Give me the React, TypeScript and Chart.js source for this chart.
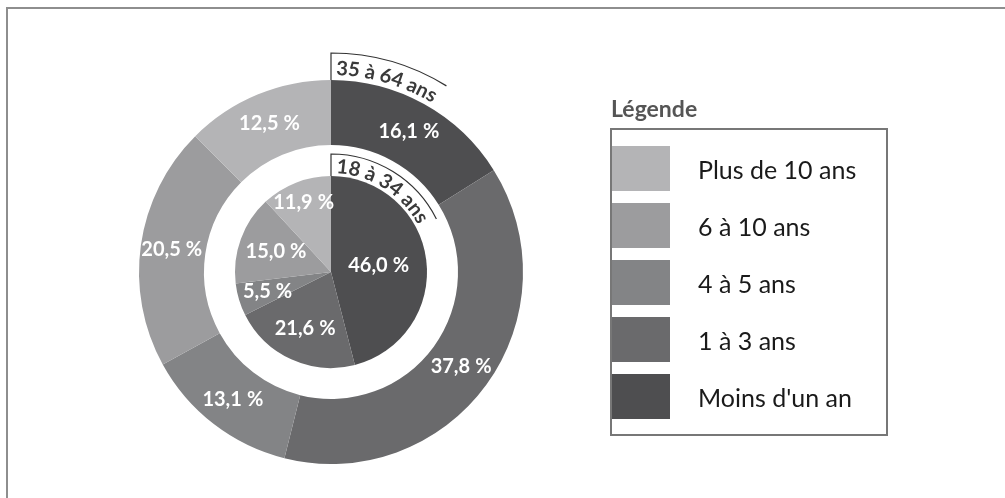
import React, { useEffect, useRef } from 'react';
import { Chart, registerables } from 'chart.js';

Chart.register(...registerables);

const categories = ["Moins d'un an", '1 à 3 ans', '4 à 5 ans', '6 à 10 ans', 'Plus de 10 ans'];
const outerValues = [16.1, 37.8, 13.1, 20.5, 12.5]; // 35 à 64 ans
const innerValues = [46.0, 21.6, 5.5, 15.0, 11.9]; // 18 à 34 ans
const ringTitles = ['35 à 64 ans', '18 à 34 ans'];
const legendTitle = 'Légende';
const colors = ['#4e4e50', '#6a6a6c', '#838486', '#9c9c9e', '#b4b4b6'];

const outerLabelFrac = [0.52, 0.52, 0.52, 0.52, 0.52];
const innerLabelFrac = [0.5, 0.65, 0.69, 0.61, 0.78];

const FONT = 'Lato, "Open Sans", sans-serif';

const fmt = (v: number) => v.toFixed(1).replace('.', ',') + '\u202f%';

function drawCurvedTitle(ctx: CanvasRenderingContext2D, cx: number, cy: number, ringR: number, boxR: number, baseR: number, text: string) {
  ctx.save();
  ctx.font = `bold 20px ${FONT}`;
  ctx.fillStyle = '#3a3a3a';
  ctx.textAlign = 'center';
  ctx.textBaseline = 'alphabetic';
  let ang = 5 / baseR;
  for (const ch of text) {
    const w = ctx.measureText(ch).width;
    const a = ang + w / 2 / baseR;
    ctx.save();
    ctx.translate(cx, cy);
    ctx.rotate(a);
    ctx.fillText(ch, 0, -baseR);
    ctx.restore();
    ang += w / baseR;
  }
  const endA = ang + 3 / baseR;
  ctx.strokeStyle = '#333';
  ctx.lineWidth = 1.2;
  ctx.beginPath();
  ctx.moveTo(cx, cy - ringR);
  ctx.lineTo(cx, cy - boxR);
  ctx.arc(cx, cy, boxR, -Math.PI / 2, -Math.PI / 2 + endA);
  ctx.stroke();
  ctx.restore();
}

const labelPlugin = {
  id: 'sliceLabels',
  afterDatasetsDraw(chart: any) {
    const ctx: CanvasRenderingContext2D = chart.ctx;
    ctx.save();
    ctx.fillStyle = '#ffffff';
    ctx.font = `bold 20px ${FONT}`;
    ctx.textAlign = 'center';
    ctx.textBaseline = 'middle';
    const sets: [number, number[], number[]][] = [
      [0, outerLabelFrac, outerValues],
      [2, innerLabelFrac, innerValues],
    ];
    for (const [di, fr, vals] of sets) {
      const meta = chart.getDatasetMeta(di);
      meta.data.forEach((arc: any, i: number) => {
        const p = arc.getProps(['x', 'y', 'startAngle', 'endAngle', 'innerRadius', 'outerRadius'], true);
        const a = (p.startAngle + p.endAngle) / 2;
        const r = p.innerRadius + fr[i] * (p.outerRadius - p.innerRadius);
        ctx.fillText(fmt(vals[i]), p.x + Math.cos(a) * r, p.y + Math.sin(a) * r);
      });
    }
    ctx.restore();
    const o = chart.getDatasetMeta(0).data[0].getProps(['x', 'y', 'outerRadius'], true);
    drawCurvedTitle(ctx, o.x, o.y, o.outerRadius, o.outerRadius + 27, o.outerRadius + 5, ringTitles[0]);
    const n = chart.getDatasetMeta(2).data[0].getProps(['x', 'y', 'outerRadius'], true);
    drawCurvedTitle(ctx, n.x, n.y, n.outerRadius, n.outerRadius + 22, n.outerRadius + 3, ringTitles[1]);
  },
};

export default function App() {
  const ref = useRef<HTMLCanvasElement>(null);
  useEffect(() => {
    if (!ref.current) return;
    const chart = new Chart(ref.current, {
      type: 'doughnut',
      data: {
        labels: categories,
        datasets: [
          { label: ringTitles[0], data: outerValues, backgroundColor: colors, borderWidth: 0, hoverOffset: 0, weight: 65 } as any,
          { label: 'spacer', data: [1], backgroundColor: ['rgba(0,0,0,0)'], borderWidth: 0, hoverOffset: 0, weight: 31 } as any,
          { label: ringTitles[1], data: innerValues, backgroundColor: colors, borderWidth: 0, hoverOffset: 0, weight: 96 } as any,
        ],
      },
      options: {
        responsive: false,
        animation: false,
        cutout: 0,
        radius: 192,
        events: [],
        layout: { padding: { left: 139, right: 482, top: 80, bottom: 34 } },
        plugins: { legend: { display: false }, tooltip: { enabled: false } },
      } as any,
      plugins: [labelPlugin],
    });
    return () => chart.destroy();
  }, []);

  const legendItems = categories.map((c, i) => ({ c, color: colors[i] })).reverse();

  return (
    <div style={{ position: 'absolute', left: 0, top: 0, width: 1005, height: 498, overflow: 'hidden', background: '#fff' }}>
      <div style={{ position: 'absolute', left: 6, top: 7, right: -10, bottom: -10, borderTop: '2px solid #8e8e8e', borderLeft: '2px solid #8e8e8e' }} />
      <canvas ref={ref} width={1005} height={498} style={{ position: 'absolute', left: 0, top: 0, width: 1005, height: 498 }} />
      <div style={{ position: 'absolute', left: 611, top: 94, font: `bold 23px ${FONT}`, color: '#555' }}>{legendTitle}</div>
      <div style={{ position: 'absolute', left: 610, top: 128, width: 274, height: 304, border: '2px solid #777' }}>
        {legendItems.map((it, i) => (
          <div key={it.c} style={{ position: 'absolute', left: 0, top: 16 + i * 57, height: 45, display: 'flex', alignItems: 'center' }}>
            <div style={{ width: 58, height: 45, background: it.color }} />
            <span style={{ marginLeft: 28, font: `25px ${FONT}`, color: '#1a1a1a', whiteSpace: 'nowrap' }}>{it.c}</span>
          </div>
        ))}
      </div>
    </div>
  );
}
